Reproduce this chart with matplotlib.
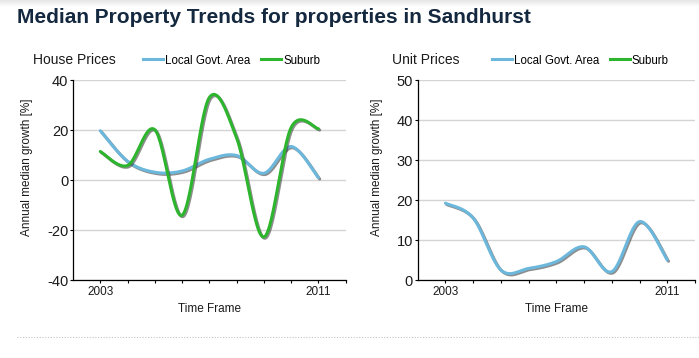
import numpy as np
import matplotlib
matplotlib.use("Agg")
import matplotlib.pyplot as plt
from matplotlib import patheffects as pe
from matplotlib.lines import Line2D

# ---------------- data ----------------
years = [2003, 2004, 2005, 2006, 2007, 2008, 2009, 2010, 2011]
house_lga = [19.7, 7.5, 3.1, 3.6, 8.3, 9.8, 2.7, 13.4, 0.9]
house_suburb = [11.4, 5.8, 20.1, -14.1, 33.0, 16.8, -22.8, 21.0, 20.5]
unit_lga = [19.2, 15.5, 2.5, 2.9, 4.6, 8.3, 2.1, 14.6, 5.0]
unit_suburb = []  # no data shown

series_names = ["Local Govt. Area", "Suburb"]
panel_titles = ["House Prices", "Unit Prices"]
house_yticks = [-40, -20, 0, 20, 40]
unit_yticks = [0, 10, 20, 30, 40, 50]
xtick_labels = {2003: "2003", 2011: "2011"}

main_title = "Median Property Trends for properties in Sandhurst"
xlabel = "Time Frame"
ylabel = "Annual median growth [%]"

BLUE = "#6cb8dc"
GREEN = "#2db52d"
FONT = "Liberation Sans"

plt.rcParams["font.family"] = [FONT, "DejaVu Sans"]
plt.rcParams["axes.unicode_minus"] = False


def cardinal_spline(xs, ys, k=1.0 / 6.0, n=30):
    P = np.column_stack([np.asarray(xs, float), np.asarray(ys, float)])
    m = len(P)
    if m < 2:
        return P[:, 0], P[:, 1]
    out = []
    for i in range(m - 1):
        p0, p1 = P[i], P[i + 1]
        prev = P[i - 1] if i > 0 else P[i]
        nxt = P[i + 2] if i + 2 < m else P[i + 1]
        c1 = p0 + k * (p1 - prev)
        c2 = p1 - k * (nxt - p0)
        t = np.linspace(0, 1, n)[:, None]
        seg = ((1 - t) ** 3) * p0 + 3 * ((1 - t) ** 2) * t * c1 + 3 * (1 - t) * t ** 2 * c2 + t ** 3 * p1
        if i > 0:
            seg = seg[1:]
        out.append(seg)
    B = np.vstack(out)
    return B[:, 0], B[:, 1]


W, H = 699, 358
fig = plt.figure(figsize=(W / 100, H / 100), dpi=100)
fig.patch.set_facecolor("white")


def fx(px):
    return px / W


def fy(py):
    return 1 - py / H


# top gradient shadow
gax = fig.add_axes([0, fy(7), 1, 7 / H])
grad = np.linspace(0.90, 1.0, 50)[:, None]
gax.imshow(np.repeat(grad, 2, axis=1), cmap="gray", vmin=0, vmax=1, aspect="auto",
           extent=[0, 1, 0, 1], origin="upper")
gax.axis("off")

fig.text(fx(17), fy(23), main_title, fontsize=15, fontweight="bold",
         color="#14283f", ha="left", va="baseline", family=FONT)

shadow = [pe.SimpleLineShadow(offset=(0.9, -0.9), shadow_color="#303030", alpha=0.55),
          pe.Normal()]


def make_panel(left_px, right_px, yticks, lga, sub, title, title_x, leg_x, label_x):
    ax = fig.add_axes([fx(left_px), fy(280), (right_px - left_px) / W, 200 / H])
    ax.set_xlim(2002, 2012)
    ax.set_ylim(yticks[0], yticks[-1])
    ax.set_yticks(yticks)
    ax.set_xticks(list(range(2003, 2013)))
    ax.set_xticklabels([xtick_labels.get(y, "") for y in range(2003, 2013)])
    for s in ["top", "right"]:
        ax.spines[s].set_visible(False)
    for s in ["left", "bottom"]:
        ax.spines[s].set_color("black")
        ax.spines[s].set_linewidth(0.9)
    ax.grid(axis="y", color="#d4d4d4", linewidth=1.0)
    ax.set_axisbelow(True)
    ax.tick_params(axis="y", direction="out", length=2.5, width=0.8, pad=1,
                   labelsize=10.5, labelcolor="#1a1a1a")
    ax.tick_params(axis="x", direction="out", length=2.5, width=0.8, pad=1.5,
                   labelsize=8.5, labelcolor="#1a1a1a")

    if len(lga):
        x, y = cardinal_spline(years, lga)
        ax.plot(x, y, color=BLUE, lw=2.2, solid_capstyle="round", path_effects=shadow,
                clip_on=False)
    if len(sub):
        x, y = cardinal_spline(years, sub)
        ax.plot(x, y, color=GREEN, lw=2.2, solid_capstyle="round", path_effects=shadow,
                clip_on=False)
    handles = [Line2D([], [], color=BLUE, lw=2.2), Line2D([], [], color=GREEN, lw=2.2)]
    ax.legend(handles, series_names, loc="center left", bbox_to_anchor=(fx(leg_x), fy(60.5)),
              bbox_transform=fig.transFigure, ncol=2, frameon=False,
              fontsize=8.3, handlelength=1.75, handletextpad=0.15,
              columnspacing=0.95, borderpad=0, borderaxespad=0)
    fig.text(fx(title_x), fy(60.5), title, fontsize=10, ha="left", va="center",
             color="#1a1a1a")
    fig.text(fx((left_px + right_px) / 2), fy(309), xlabel, fontsize=8.5,
             ha="center", va="center", color="#1a1a1a")
    fig.text(fx(label_x), fy(167), ylabel, fontsize=8.5, rotation=90,
             ha="center", va="center", color="#1a1a1a")
    return ax


make_panel(73, 345.7, house_yticks, house_lga, house_suburb, panel_titles[0], 33, 143, 27)
make_panel(417.7, 695, unit_yticks, unit_lga, unit_suburb, panel_titles[1], 391.7, 491.7, 377)

fig.add_artist(Line2D([fx(17), 1], [fy(337), fy(337)], transform=fig.transFigure,
                      color="#c4c4c4", lw=0.8, linestyle=(0, (1, 1.5))))

fig.savefig("out.png", dpi=100, facecolor="white")
